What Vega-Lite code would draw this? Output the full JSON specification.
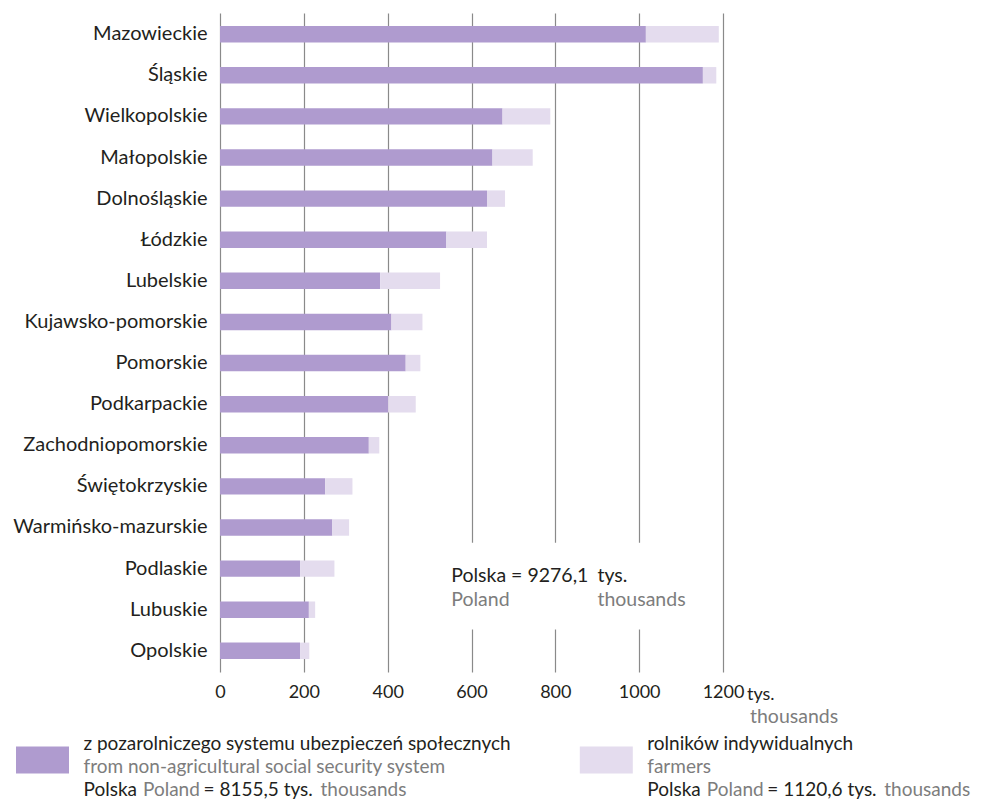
{
  "$schema": "https://vega.github.io/schema/vega-lite/v6.json",
  "padding": {"left": 5, "top": 13, "right": 0, "bottom": 0},
  "background": "white",
  "bounds": "flush",
  "spacing": 58,
  "config": {"font": "Lato", "view": {"stroke": null}},
  "vconcat": [
    {
      "width": 503,
      "height": 659,
      "data": {"values": [
        {"region": "Mazowieckie", "series": "pozarolniczy", "value": 1016},
        {"region": "Mazowieckie", "series": "rolnicy", "value": 174},
        {"region": "Śląskie", "series": "pozarolniczy", "value": 1152},
        {"region": "Śląskie", "series": "rolnicy", "value": 32},
        {"region": "Wielkopolskie", "series": "pozarolniczy", "value": 674},
        {"region": "Wielkopolskie", "series": "rolnicy", "value": 114},
        {"region": "Małopolskie", "series": "pozarolniczy", "value": 650},
        {"region": "Małopolskie", "series": "rolnicy", "value": 96},
        {"region": "Dolnośląskie", "series": "pozarolniczy", "value": 637},
        {"region": "Dolnośląskie", "series": "rolnicy", "value": 43},
        {"region": "Łódzkie", "series": "pozarolniczy", "value": 540},
        {"region": "Łódzkie", "series": "rolnicy", "value": 97},
        {"region": "Lubelskie", "series": "pozarolniczy", "value": 382},
        {"region": "Lubelskie", "series": "rolnicy", "value": 143},
        {"region": "Kujawsko-pomorskie", "series": "pozarolniczy", "value": 409},
        {"region": "Kujawsko-pomorskie", "series": "rolnicy", "value": 74},
        {"region": "Pomorskie", "series": "pozarolniczy", "value": 443},
        {"region": "Pomorskie", "series": "rolnicy", "value": 35},
        {"region": "Podkarpackie", "series": "pozarolniczy", "value": 401},
        {"region": "Podkarpackie", "series": "rolnicy", "value": 66},
        {"region": "Zachodniopomorskie", "series": "pozarolniczy", "value": 355},
        {"region": "Zachodniopomorskie", "series": "rolnicy", "value": 25},
        {"region": "Świętokrzyskie", "series": "pozarolniczy", "value": 251},
        {"region": "Świętokrzyskie", "series": "rolnicy", "value": 65},
        {"region": "Warmińsko-mazurskie", "series": "pozarolniczy", "value": 268},
        {"region": "Warmińsko-mazurskie", "series": "rolnicy", "value": 40},
        {"region": "Podlaskie", "series": "pozarolniczy", "value": 191},
        {"region": "Podlaskie", "series": "rolnicy", "value": 82},
        {"region": "Lubuskie", "series": "pozarolniczy", "value": 212},
        {"region": "Lubuskie", "series": "rolnicy", "value": 15},
        {"region": "Opolskie", "series": "pozarolniczy", "value": 191},
        {"region": "Opolskie", "series": "rolnicy", "value": 22}
      ]},
      "layer": [
        {
          "mark": {"type": "bar"},
          "encoding": {
            "y": {
              "field": "region", "type": "nominal", "sort": null,
              "scale": {"paddingInner": 0.6, "paddingOuter": 0.315},
              "axis": {"title": null, "labelFontSize": 20, "labelColor": "#231f20", "labelPadding": 13, "labelLimit": 0, "ticks": false, "tickSize": 0, "domain": false, "grid": false, "minExtent": 215, "maxExtent": 215}
            },
            "x": {
              "field": "value", "type": "quantitative", "stack": "zero",
              "scale": {"domain": [0, 1200], "nice": false},
              "axis": {"title": null, "values": [0, 200, 400, 600, 800, 1000, 1200], "format": "d", "labelFontSize": 18, "labelColor": "#231f20", "labelPadding": 11, "ticks": false, "tickSize": 0, "domain": false, "grid": true, "gridColor": "#8a8a8a", "gridWidth": 1.2, "labelFlush": false}
            },
            "color": {"field": "series", "type": "nominal", "scale": {"domain": ["pozarolniczy", "rolnicy"], "range": ["#af9bcf", "#e4dcee"]}, "legend": null}
          }
        },
        {
          "data": {"values": [{"t": "box"}]},
          "mark": {"type": "rect", "color": "white", "yOffset": 7, "y2Offset": -13},
          "encoding": {
            "x": {"datum": 480, "type": "quantitative"},
            "x2": {"datum": 1150},
            "y": {"datum": "Warmińsko-mazurskie", "type": "nominal", "bandPosition": 1},
            "y2": {"datum": "Opolskie", "bandPosition": 0}
          }
        },
        {
          "data": {"values": [{"t": "Polska = 9276,1"}]},
          "mark": {"type": "text", "align": "left", "baseline": "alphabetic", "dy": 13, "fontSize": 19.5, "color": "#231f20"},
          "encoding": {"x": {"datum": 551.6, "type": "quantitative"}, "y": {"datum": "Podlaskie", "type": "nominal"}, "text": {"field": "t"}}
        },
        {
          "data": {"values": [{"t": "tys."}]},
          "mark": {"type": "text", "align": "left", "baseline": "alphabetic", "dy": 13, "fontSize": 19.5, "color": "#231f20"},
          "encoding": {"x": {"datum": 900.4, "type": "quantitative"}, "y": {"datum": "Podlaskie", "type": "nominal"}, "text": {"field": "t"}}
        },
        {
          "data": {"values": [{"t": "Poland"}]},
          "mark": {"type": "text", "align": "left", "baseline": "alphabetic", "dy": 37, "fontSize": 19.5, "color": "#7d7d7d"},
          "encoding": {"x": {"datum": 551.6, "type": "quantitative"}, "y": {"datum": "Podlaskie", "type": "nominal"}, "text": {"field": "t"}}
        },
        {
          "data": {"values": [{"t": "thousands"}]},
          "mark": {"type": "text", "align": "left", "baseline": "alphabetic", "dy": 37, "fontSize": 19.5, "color": "#7d7d7d"},
          "encoding": {"x": {"datum": 900.4, "type": "quantitative"}, "y": {"datum": "Podlaskie", "type": "nominal"}, "text": {"field": "t"}}
        },
        {
          "data": {"values": [{"t": "tys."}]},
          "mark": {"type": "text", "align": "left", "baseline": "alphabetic", "dx": 24, "dy": 49, "fontSize": 18, "color": "#231f20"},
          "encoding": {"x": {"datum": 1200, "type": "quantitative"}, "y": {"datum": "Opolskie", "type": "nominal"}, "text": {"field": "t"}}
        },
        {
          "data": {"values": [{"t": "thousands"}]},
          "mark": {"type": "text", "align": "left", "baseline": "alphabetic", "dx": 27, "dy": 72, "fontSize": 19.5, "color": "#7d7d7d"},
          "encoding": {"x": {"datum": 1200, "type": "quantitative"}, "y": {"datum": "Opolskie", "type": "nominal"}, "text": {"field": "t"}}
        }
      ]
    },
    {
      "width": 700,
      "height": 60,
      "data": {"values": [
        {"series": "pozarolniczy", "pl": "z pozarolniczego systemu ubezpieczeń społecznych", "en": "from non-agricultural social security system", "total": "= 8155,5 tys."},
        {"series": "rolnicy", "pl": "rolników indywidualnych", "en": "farmers", "total": "= 1120,6 tys."}
      ]},
      "encoding": {
        "x": {"field": "series", "type": "nominal", "scale": {"type": "point", "padding": 0, "range": [-177.5, 386.3]}, "axis": null}
      },
      "layer": [
        {
          "mark": {"type": "point", "shape": "M-1,-0.51H1V0.51H-1Z", "size": 2809, "filled": true, "opacity": 1, "strokeWidth": 0},
          "encoding": {"color": {"field": "series", "type": "nominal", "scale": {"domain": ["pozarolniczy", "rolnicy"], "range": ["#af9bcf", "#e4dcee"]}, "legend": null}}
        },
        {
          "mark": {"type": "text", "align": "left", "baseline": "alphabetic", "dx": 41, "dy": -10, "fontSize": 19, "color": "#231f20"},
          "encoding": {"text": {"field": "pl"}}
        },
        {
          "mark": {"type": "text", "align": "left", "baseline": "alphabetic", "dx": 41, "dy": 13, "fontSize": 19, "color": "#7d7d7d"},
          "encoding": {"text": {"field": "en"}}
        },
        {
          "mark": {"type": "text", "align": "left", "baseline": "alphabetic", "dx": 41, "dy": 36, "fontSize": 19, "color": "#231f20", "text": "Polska"}
        },
        {
          "mark": {"type": "text", "align": "left", "baseline": "alphabetic", "dx": 100.5, "dy": 36, "fontSize": 19, "color": "#7d7d7d", "text": "Poland"}
        },
        {
          "mark": {"type": "text", "align": "left", "baseline": "alphabetic", "dx": 161, "dy": 36, "fontSize": 19, "color": "#231f20"},
          "encoding": {"text": {"field": "total"}}
        },
        {
          "mark": {"type": "text", "align": "left", "baseline": "alphabetic", "dx": 278, "dy": 36, "fontSize": 19, "color": "#7d7d7d", "text": "thousands"}
        }
      ]
    }
  ]
}
